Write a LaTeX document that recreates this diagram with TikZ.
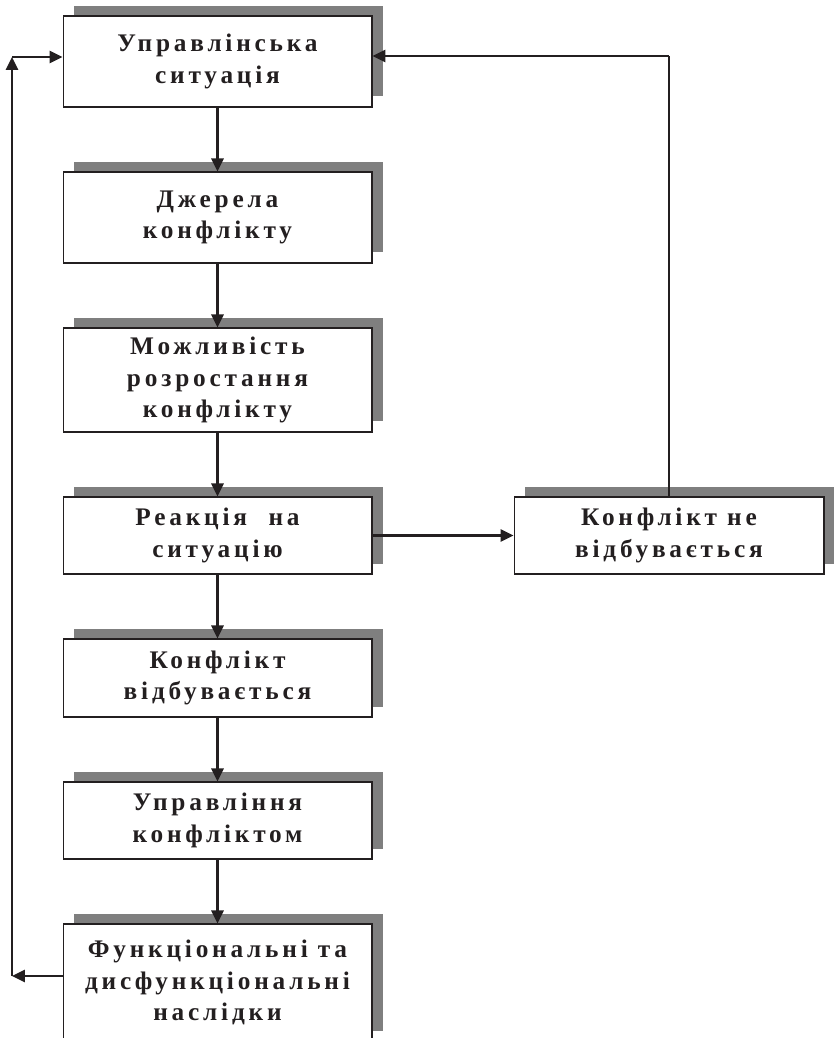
\documentclass[tikz,border=0pt]{standalone}
\usepackage{fontspec}
\setmainfont{Liberation Serif}[LetterSpace=15]
\usepackage{xcolor}
\usetikzlibrary{arrows.meta,shadows}
\definecolor{shadowgray}{RGB}{127,127,127}
\definecolor{inkgray}{RGB}{35,31,32}

\begin{document}
\begin{tikzpicture}[x=0.02cm, y=-0.02cm,
    stage/.style={draw=inkgray, line width=0.6pt, fill=white, text=inkgray,
        minimum width=6.18cm, inner sep=0pt, align=center,
        font=\bfseries\fontsize{14.4}{17.8}\selectfont,
        drop shadow={shadow xshift=0.22cm, shadow yshift=0.21cm, opacity=1, fill=shadowgray}},
    flow/.style={draw=inkgray, line width=1.5pt, -{Triangle[length=0.26cm, width=0.24cm]}}]
    \useasboundingbox (0,0) rectangle (834,1038);

    \node[stage, minimum height=1.82cm] (sit) at (217.5,61.5) {Управлінська\\ситуація};
    \node[stage, minimum height=1.82cm] (src) at (217.5,217.5) {Джерела\\конфлікту};
    \node[stage, minimum height=2.08cm] (grow) at (217.5,380) {Можливість\\розростання\\конфлікту};
    \node[stage, minimum height=1.54cm] (react) at (217.5,535.5) {Реакція\hspace{.45em} на\\ситуацію};
    \node[stage, minimum height=1.56cm] (occur) at (217.5,678) {Конфлікт\\відбувається};
    \node[stage, minimum height=1.54cm] (manage) at (217.5,820.5) {Управління\\конфліктом};
    \node[stage, minimum height=2.34cm] (result) at (217.5,982.5) {Функціональні та\\дисфункціональні\\наслідки};
    \node[stage, minimum height=1.54cm, minimum width=6.2cm] (none) at (669,535.5) {Конфлікт не\\відбувається};

    \coordinate (topright) at (669,56);
    \coordinate (topleft) at (12,57);
    \coordinate (botleft) at (12,976);

    \draw[flow] (sit) -- (src);
    \draw[flow] (src) -- (grow);
    \draw[flow] (grow) -- (react);
    \draw[flow] (react) -- (occur);
    \draw[flow] (occur) -- (manage);
    \draw[flow] (manage) -- (result);
    \draw[flow] (react) -- (none);

    \draw[draw=inkgray, line width=0.6pt] (none.north) -- (topright);
    \draw[flow] (topright) -- (sit.east |- topright);

    \draw[flow] (result.west |- botleft) -- (botleft);
    \draw[flow] (botleft) -- (topleft);
    \draw[flow] (topleft) -- (sit.west |- topleft);
\end{tikzpicture}
\end{document}
